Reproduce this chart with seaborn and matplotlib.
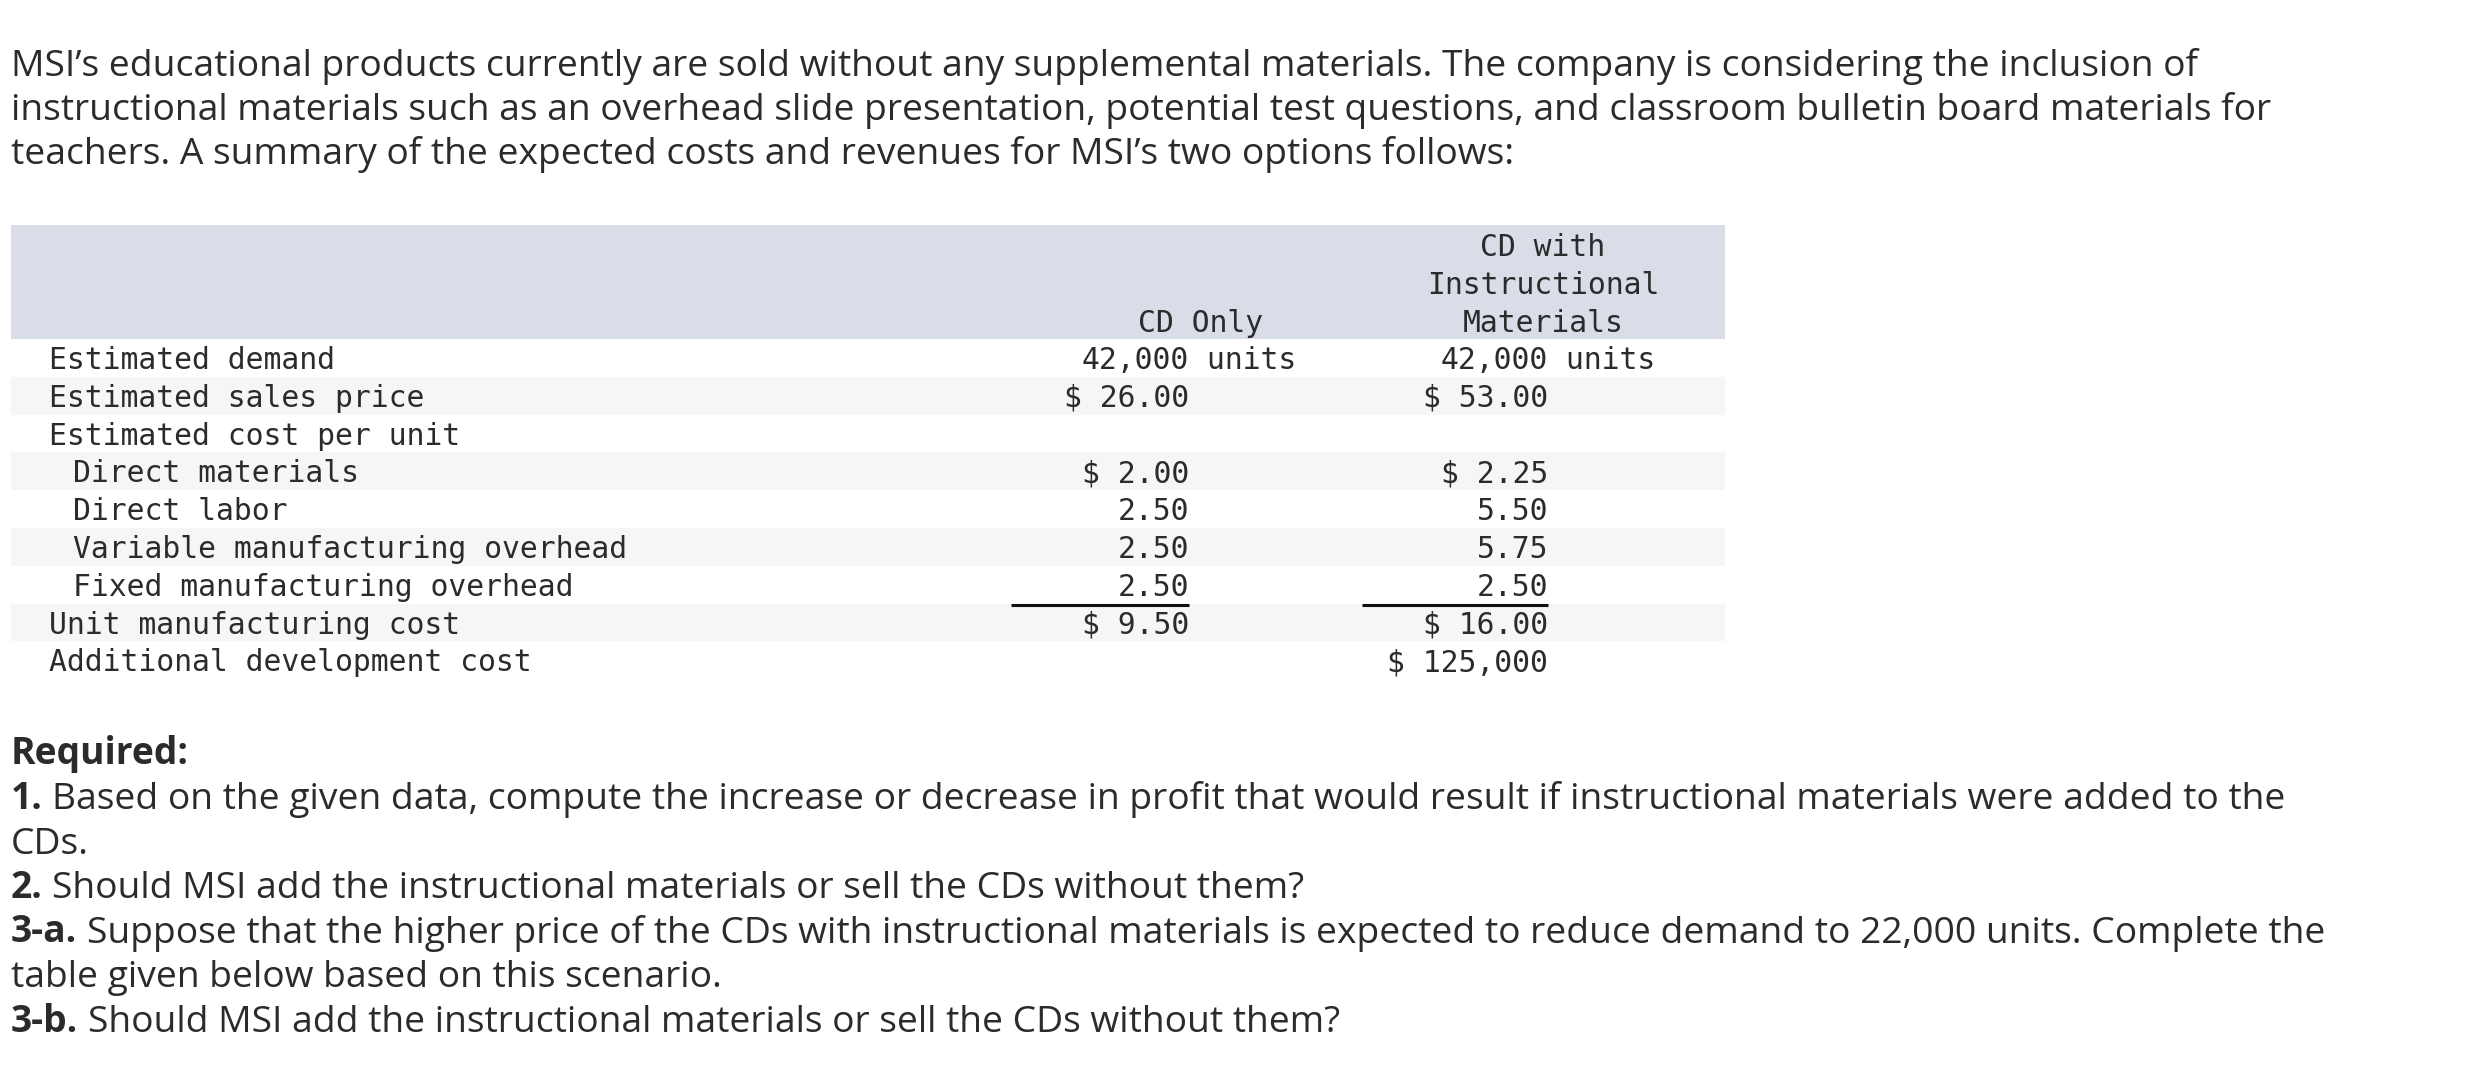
import matplotlib
matplotlib.use("Agg")
import matplotlib.pyplot as plt
import seaborn as sns

# ---------------- data ----------------
intro_lines = [
    "MSI\u2019s educational products currently are sold without any supplemental materials. The company is considering the inclusion of",
    "instructional materials such as an overhead slide presentation, potential test questions, and classroom bulletin board materials for",
    "teachers. A summary of the expected costs and revenues for MSI\u2019s two options follows:",
]
required_title = "Required:"
req_prefixes = ["1.", "", "2.", "3-a.", "", "3-b."]
req_texts = [
    "Based on the given data, compute the increase or decrease in profit that would result if instructional materials were added to the",
    "CDs.",
    "Should MSI add the instructional materials or sell the CDs without them?",
    "Suppose that the higher price of the CDs with instructional materials is expected to reduce demand to 22,000 units. Complete the",
    "table given below based on this scenario.",
    "Should MSI add the instructional materials or sell the CDs without them?",
]

row_labels = [
    "Estimated demand",
    "Estimated sales price",
    "Estimated cost per unit",
    "Direct materials",
    "Direct labor",
    "Variable manufacturing overhead",
    "Fixed manufacturing overhead",
    "Unit manufacturing cost",
    "Additional development cost",
]
row_indent = [0, 0, 0, 1, 1, 1, 1, 0, 0]
col_headers = [["CD Only"], ["CD with", "Instructional", "Materials"]]
demand_units = [42000, 42000]
sales_price = [26.00, 53.00]
direct_materials = [2.00, 2.25]
direct_labor = [2.50, 5.50]
variable_moh = [2.50, 5.75]
fixed_moh = [2.50, 2.50]
unit_cost = [9.50, 16.00]
additional_dev = [None, 125000]

# ---------------- style / layout ----------------
W, H = 2472, 1075
TEXT = "#2b2b2b"
HEADER_BG = "#d9dde8"
STRIPE_BG = "#f6f6f6"
MONO = "DejaVu Sans Mono"
SANS = "Open Sans"

sns.set_theme(style="white")
plt.rcParams["font.family"] = [SANS, "DejaVu Sans"]

fig = plt.figure(figsize=(W / 100, H / 100), dpi=100)
ax = fig.add_axes([0, 0, 1, 1])
ax.set_xlim(0, W)
ax.set_ylim(H, 0)
ax.axis("off")
renderer = fig.canvas.get_renderer()


def width_of(t):
    return t.get_window_extent(renderer=renderer).width


# fit paragraph font size to the reference line width
probe = ax.text(0, 0, intro_lines[0], fontsize=20, family=SANS)
sans_size = 20 * 2190 / width_of(probe)
probe.remove()

left = 11
intro_base = [76, 120, 164]
for y, line in zip(intro_base, intro_lines):
    ax.text(left, y, line, fontsize=sans_size, family=SANS, color=TEXT, va="baseline", ha="left")

# ---------------- table ----------------
tbl_left, tbl_right = 11, 1725
hdr_top, hdr_bot = 225, 339
row_h = 37.8
row0_base = 369
mono_size = 21.4

ax.add_patch(plt.Rectangle((tbl_left, hdr_top), tbl_right - tbl_left, hdr_bot - hdr_top,
                           color=HEADER_BG, lw=0, zorder=0))
for i in range(len(row_labels)):
    if i % 2 == 1:
        top = hdr_bot + i * row_h
        ax.add_patch(plt.Rectangle((tbl_left, top), tbl_right - tbl_left, row_h,
                                   color=STRIPE_BG, lw=0, zorder=0))

for i, (lab, ind) in enumerate(zip(row_labels, row_indent)):
    x = 49 + ind * 24
    ax.text(x, row0_base + i * row_h, lab, fontsize=mono_size, family=MONO,
            color=TEXT, va="baseline", ha="left")

col_right = [1189, 1548]
col_center = [1201, 1543]
hdr_last_base = 332
for c, lines in enumerate(col_headers):
    n = len(lines)
    for k, line in enumerate(lines):
        y = hdr_last_base - (n - 1 - k) * row_h
        ax.text(col_center[c], y, line, fontsize=mono_size, family=MONO,
                color=TEXT, va="baseline", ha="center")


def fmt_cells(c):
    cells = []
    cells.append(f"{demand_units[c]:,}")
    cells.append(f"$ {sales_price[c]:.2f}")
    cells.append("")
    cells.append(f"$ {direct_materials[c]:.2f}")
    cells.append(f"{direct_labor[c]:.2f}")
    cells.append(f"{variable_moh[c]:.2f}")
    cells.append(f"{fixed_moh[c]:.2f}")
    cells.append(f"$ {unit_cost[c]:.2f}")
    cells.append("" if additional_dev[c] is None else f"$ {additional_dev[c]:,}")
    return cells


underline_left = [1011, 1362]
for c in range(2):
    cells = fmt_cells(c)
    for i, s in enumerate(cells):
        if s:
            ax.text(col_right[c], row0_base + i * row_h, s, fontsize=mono_size, family=MONO,
                    color=TEXT, va="baseline", ha="right")
    ax.text(col_right[c], row0_base, " units", fontsize=mono_size, family=MONO,
            color=TEXT, va="baseline", ha="left")
    ax.plot([underline_left[c], col_right[c]], [605, 605], color="#111111", lw=2.2,
            solid_capstyle="butt")

# ---------------- required section ----------------
req_title_base = 764
ax.text(left, req_title_base, required_title, fontsize=sans_size, family=SANS,
        weight="bold", color=TEXT, va="baseline", ha="left")

p1 = ax.text(0, -100, "a a", fontsize=sans_size, family=SANS)
p2 = ax.text(0, -100, "aa", fontsize=sans_size, family=SANS)
space_w = width_of(p1) - width_of(p2)
p1.remove(); p2.remove()

req_base0 = 809
req_step = 44.5
for k, (pre, txt) in enumerate(zip(req_prefixes, req_texts)):
    y = req_base0 + k * req_step
    x = left
    if pre:
        t = ax.text(x, y, pre, fontsize=sans_size, family=SANS, weight="bold",
                    color=TEXT, va="baseline", ha="left")
        x = x + width_of(t) + space_w
    ax.text(x, y, txt, fontsize=sans_size, family=SANS, color=TEXT,
            va="baseline", ha="left")

fig.savefig("out.png", dpi=100, facecolor="white")
